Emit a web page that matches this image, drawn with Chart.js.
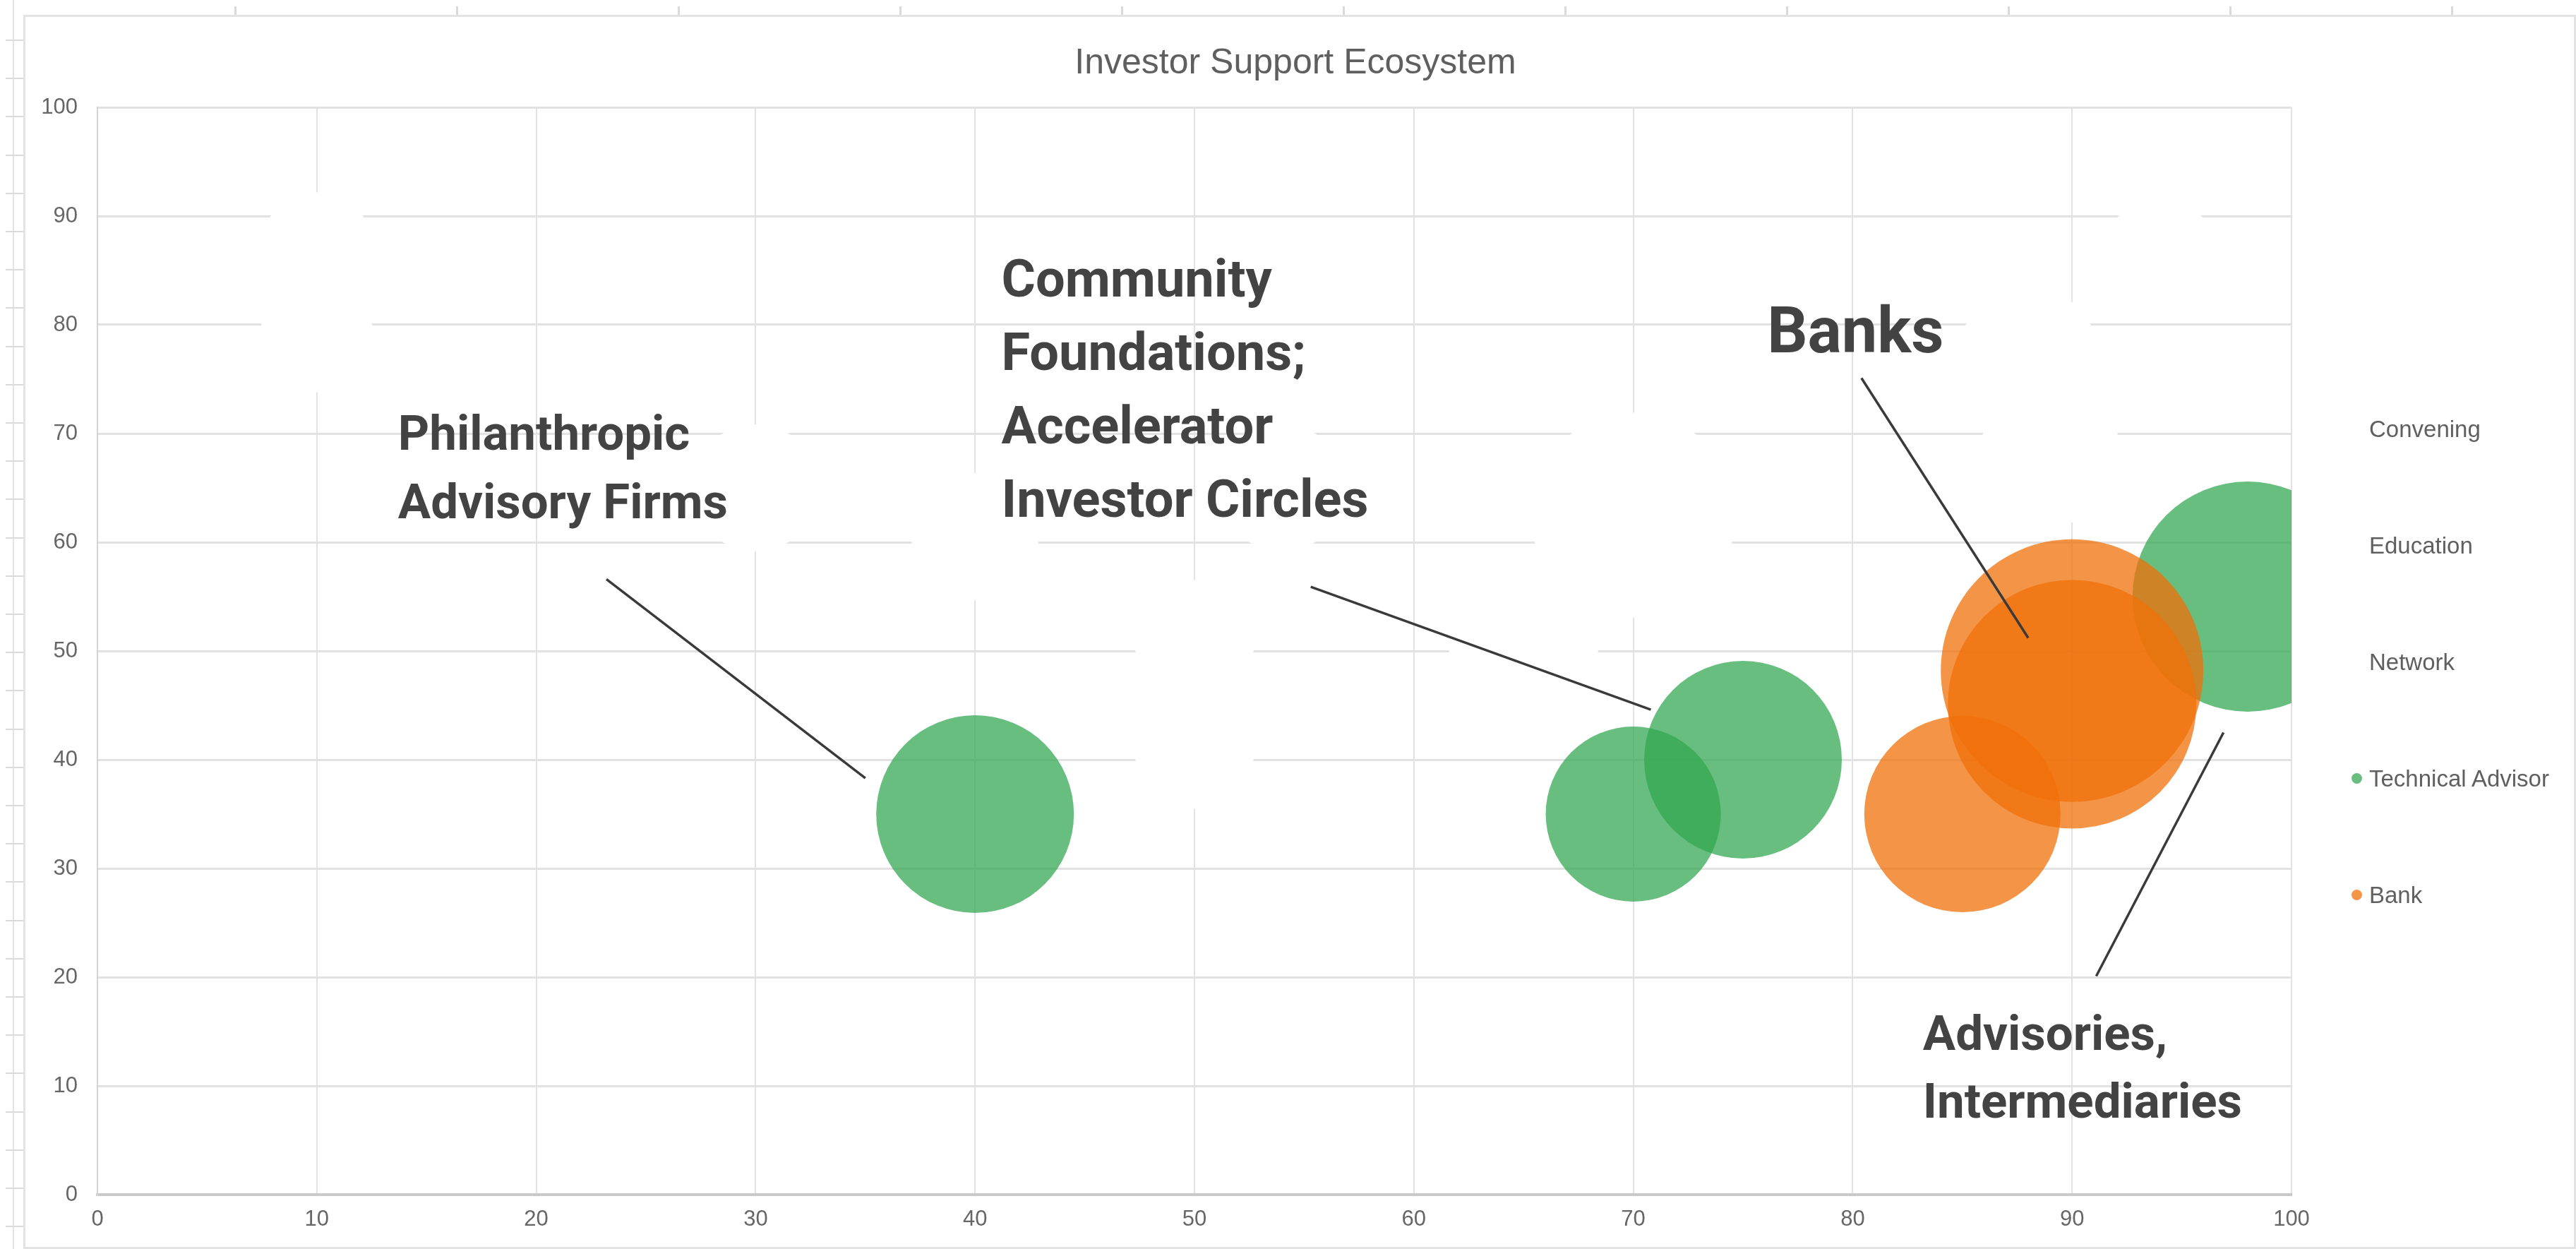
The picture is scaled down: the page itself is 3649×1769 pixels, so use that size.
<!DOCTYPE html>
<html>
<head>
<meta charset="utf-8">
<title>Investor Support Ecosystem</title>
<script src="https://cdn.jsdelivr.net/npm/chart.js@4.4.1/dist/chart.umd.min.js"></script>
<style>
    html, body {
        margin: 0;
        padding: 0;
        background: #ffffff;
        overflow: hidden;
    }
    #sheet {
        position: relative;
        width: 3649px;
        height: 1769px;
    }
    /* spreadsheet edges around the chart */
    .frame {
        position: absolute;
        left: 33px;
        top: 21px;
        width: 3616px;
        height: 1748px;
        box-sizing: border-box;
        border: 3px solid #e3e3e3;
    }
    .gutter-line {
        position: absolute;
        left: 18px;
        top: 0;
        width: 2px;
        height: 1769px;
        background: #e3e3e3;
    }
    .row-ticks {
        position: absolute;
        left: 8px;
        top: 56px;
        width: 26px;
        height: 1713px;
        background: repeating-linear-gradient(to bottom, #dadada 0 2px, transparent 2px 54.2px);
    }
    .col-ticks {
        position: absolute;
        left: 332px;
        top: 9px;
        width: 3300px;
        height: 13px;
        background: repeating-linear-gradient(to right, #dadada 0 3px, transparent 3px 314px);
    }
    #chart {
        position: absolute;
        left: 0;
        top: 0;
    }
    #chartLegend {
        position: absolute;
        left: 3331px;
        top: 525px;
        font-family: 'Liberation Sans', Arial, sans-serif;
        font-size: 33px;
        color: #5f5f5f;
    }
</style>
</head>
<body>
<div id="sheet">
    <div class="gutter-line"></div>
    <div class="row-ticks"></div>
    <div class="col-ticks"></div>
    <div class="frame"></div>
    <canvas id="chart" width="3649" height="1769"></canvas>
    <div id="chartLegend"></div>
</div>

<script>
// Series values: x, y and bubble size (radius)
const seriesNames = ['Convening', 'Education', 'Network', 'Technical Advisor', 'Bank'];

const conveningX = [10, 10];
const conveningY = [87, 79];
const conveningSize = [80, 80];

const educationX = [30, 40, 50, 50];
const educationY = [65, 60.5, 51, 41];
const educationSize = [90, 90, 85, 85];

const networkX = [54, 65, 70, 88, 89, 94];
const networkY = [65, 52, 62.5, 77, 68, 86];
const networkSize = [90, 110, 145, 100, 100, 85];

const advisorX = [40, 70, 75, 98];
const advisorY = [35, 35, 40, 55];
const advisorSize = [140, 124, 140, 163];

const bankX = [85, 90, 90];
const bankY = [35, 48.2, 45.1];
const bankSize = [139, 186, 176];

// Axis range and tick step (both axes)
const axisMin = 0;
const axisMax = 100;
const axisStep = 10;

// Text callouts with their leader lines, in data units
const callouts = [
    { lines: ['Philanthropic', 'Advisory Firms'], at: [13.7, 68.5], size: 69, gap: 97, from: [23.2, 56.6], to: [35, 38.3] },
    { lines: ['Community', 'Foundations;', 'Accelerator', 'Investor Circles'], at: [41.2, 82.6], size: 74, gap: 104, from: [55.3, 55.9], to: [70.8, 44.6] },
    { lines: ['Banks'], at: [76.1, 77.5], size: 90, gap: 0, from: [80.4, 75.1], to: [88, 51.2] },
    { lines: ['Advisories,', 'Intermediaries'], at: [83.2, 13.3], size: 69, gap: 96, from: [96.9, 42.5], to: [91.1, 20.1] }
];

const seriesColors = {
    'Convening': '#ffffff',
    'Education': '#ffffff',
    'Network': '#ffffff',
    'Technical Advisor': 'rgba(52, 168, 83, 0.75)',
    'Bank': 'rgba(240, 112, 10, 0.75)'
};

function points(xs, ys, sizes) {
    return xs.map((x, i) => ({ x: x, y: ys[i], r: sizes[i] }));
}

const seriesData = [
    points(conveningX, conveningY, conveningSize),
    points(educationX, educationY, educationSize),
    points(networkX, networkY, networkSize),
    points(advisorX, advisorY, advisorSize),
    points(bankX, bankY, bankSize)
];

// white series sit underneath, banks on top
const drawOrder = [2, 2, 2, 1, 0];

const datasets = seriesNames.map((name, i) => ({
    label: name,
    data: seriesData[i],
    backgroundColor: seriesColors[name],
    borderWidth: 0,
    hoverBorderWidth: 0,
    order: drawOrder[i],
    clip: 0,
    xAxisID: 'x',
    yAxisID: 'y'
}));

const tickFont = { family: "'Liberation Sans', Arial, sans-serif", size: 31 };

// Leader lines and bold labels over the bubbles
const calloutPlugin = {
    id: 'callouts',
    afterDatasetsDraw(chart) {
        const { ctx, scales: { x, y } } = chart;
        ctx.save();
        callouts.forEach(c => {
            ctx.strokeStyle = '#3a3a3a';
            ctx.lineWidth = 3.5;
            ctx.beginPath();
            ctx.moveTo(x.getPixelForValue(c.from[0]), y.getPixelForValue(c.from[1]));
            ctx.lineTo(x.getPixelForValue(c.to[0]), y.getPixelForValue(c.to[1]));
            ctx.stroke();

            ctx.fillStyle = '#434343';
            ctx.font = `bold ${c.size}px Roboto, 'Liberation Sans', sans-serif`;
            ctx.textAlign = 'left';
            ctx.textBaseline = 'alphabetic';
            const left = x.getPixelForValue(c.at[0]);
            const top = y.getPixelForValue(c.at[1]);
            c.lines.forEach((line, i) => {
                ctx.fillText(line, left, top + i * c.gap);
            });
        });
        ctx.restore();
    }
};

const ctx = document.getElementById('chart').getContext('2d');
const chart = new Chart(ctx, {
    type: 'bubble',
    data: { datasets: datasets },
    plugins: [calloutPlugin],
    options: {
        responsive: false,
        animation: false,
        events: [],
        layout: {
            autoPadding: false,
            padding: { left: 21, right: 0, top: 0, bottom: 0 }
        },
        plugins: {
            legend: { display: false },
            tooltip: { enabled: false },
            title: {
                display: true,
                text: 'Investor Support Ecosystem',
                color: '#5f5f5f',
                font: { family: "'Liberation Sans', Arial, sans-serif", size: 50, weight: 'normal', lineHeight: 1.2 },
                padding: { top: 60, bottom: 32 }
            }
        },
        scales: {
            x: {
                type: 'linear',
                position: 'bottom',
                min: axisMin,
                max: axisMax,
                ticks: { stepSize: axisStep, padding: 17, color: '#666666', font: tickFont },
                grid: { color: '#e2e2e2', lineWidth: 2, drawTicks: false },
                border: { color: '#c9c9c9', width: 4 },
                afterFit: scale => { scale.height = 77; }
            },
            y: {
                type: 'linear',
                position: 'left',
                min: axisMin,
                max: axisMax,
                ticks: { stepSize: axisStep, padding: 28, color: '#666666', font: tickFont },
                grid: { color: '#e2e2e2', lineWidth: 3, drawTicks: false },
                border: { color: '#d4d4d4', width: 2 },
                afterFit: scale => { scale.width = 117; }
            },
            // empty column that keeps room for the legend
            legendSpace: {
                type: 'linear',
                position: 'right',
                grid: { display: false },
                ticks: { display: false },
                border: { display: false },
                afterFit: scale => { scale.width = 403; }
            }
        }
    }
});

// Legend built from the datasets
const legendContainer = document.getElementById('chartLegend');
chart.data.datasets.forEach(ds => {
    const legendItem = document.createElement('div');
    legendItem.style.display = 'flex';
    legendItem.style.alignItems = 'center';
    legendItem.style.height = '165px';
    legendItem.innerHTML = `
        <span style="display:inline-block; width:15px; height:15px; background-color:${ds.backgroundColor}; margin-right:10px; border-radius:50%;"></span>
        <span>${ds.label}</span>
    `;
    legendContainer.appendChild(legendItem);
});
</script>
</body>
</html>
